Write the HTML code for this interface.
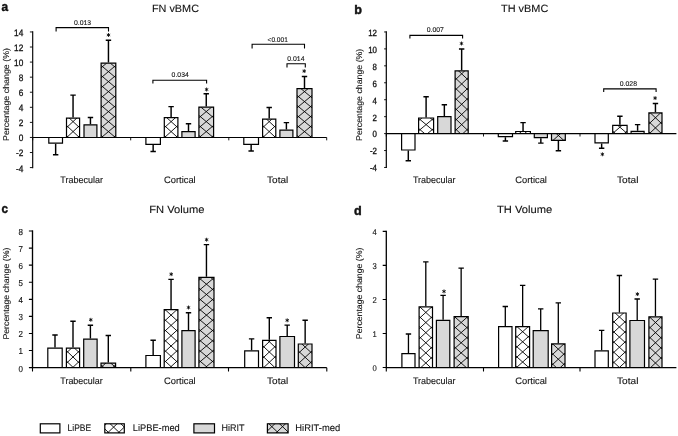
<!DOCTYPE html>
<html><head><meta charset="utf-8"><title>Figure</title>
<style>
html,body{margin:0;padding:0;background:#fff;}
body{width:678px;height:436px;overflow:hidden;font-family:"Liberation Sans",sans-serif;}
svg{display:block;will-change:transform;filter:grayscale(1);}
text{font-family:"Liberation Sans",sans-serif;fill:#111;stroke:#111;stroke-width:0.1px;text-rendering:geometricPrecision;}
</style></head><body>
<svg width="678" height="436" viewBox="0 0 678 436">
<defs><clipPath id="c1"><rect x="66.50" y="118.10" width="13.10" height="19.35"/></clipPath><clipPath id="c2"><rect x="101.10" y="63.20" width="14.70" height="74.25"/></clipPath><clipPath id="c3"><rect x="164.30" y="117.70" width="13.60" height="19.75"/></clipPath><clipPath id="c4"><rect x="198.90" y="107.20" width="14.70" height="30.25"/></clipPath><clipPath id="c5"><rect x="262.60" y="119.20" width="13.20" height="18.25"/></clipPath><clipPath id="c6"><rect x="297.00" y="88.70" width="15.00" height="48.75"/></clipPath><clipPath id="c7"><rect x="418.60" y="118.00" width="15.00" height="15.60"/></clipPath><clipPath id="c8"><rect x="455.10" y="70.90" width="13.10" height="62.70"/></clipPath><clipPath id="c9"><rect x="515.70" y="131.50" width="14.70" height="2.10"/></clipPath><clipPath id="c10"><rect x="551.50" y="133.60" width="13.80" height="6.80"/></clipPath><clipPath id="c11"><rect x="612.70" y="125.30" width="14.40" height="8.30"/></clipPath><clipPath id="c12"><rect x="648.90" y="112.90" width="13.10" height="20.70"/></clipPath><clipPath id="c13"><rect x="66.40" y="348.10" width="13.20" height="19.55"/></clipPath><clipPath id="c14"><rect x="101.00" y="363.10" width="14.60" height="4.55"/></clipPath><clipPath id="c15"><rect x="164.20" y="309.70" width="13.70" height="57.95"/></clipPath><clipPath id="c16"><rect x="198.90" y="277.30" width="15.10" height="90.35"/></clipPath><clipPath id="c17"><rect x="262.60" y="340.30" width="13.40" height="27.35"/></clipPath><clipPath id="c18"><rect x="298.30" y="344.00" width="13.70" height="23.65"/></clipPath><clipPath id="c19"><rect x="419.10" y="306.90" width="13.40" height="60.65"/></clipPath><clipPath id="c20"><rect x="454.10" y="316.70" width="14.10" height="50.85"/></clipPath><clipPath id="c21"><rect x="515.70" y="326.70" width="13.90" height="40.85"/></clipPath><clipPath id="c22"><rect x="551.60" y="343.90" width="13.40" height="23.65"/></clipPath><clipPath id="c23"><rect x="612.70" y="313.00" width="13.40" height="54.55"/></clipPath><clipPath id="c24"><rect x="648.90" y="316.80" width="13.10" height="50.75"/></clipPath><clipPath id="c25"><rect x="104.80" y="423.80" width="19.50" height="9.10"/></clipPath><clipPath id="c26"><rect x="267.40" y="423.80" width="20.70" height="9.10"/></clipPath></defs>
<rect width="678" height="436" fill="#fff"/>
<path d="M55.65 143.80L55.65 154.70M52.95 154.70L58.35 154.70" stroke="#000" stroke-width="1.45" fill="none"/><rect x="48.80" y="137.45" width="13.70" height="5.75" fill="#fff" stroke="none"/><path d="M48.80 137.45L48.80 143.20L62.50 143.20L62.50 137.45" fill="none" stroke="#000" stroke-width="1.2" stroke-linejoin="miter"/><path d="M73.05 117.50L73.05 95.10M70.35 95.10L75.75 95.10" stroke="#000" stroke-width="1.45" fill="none"/><rect x="66.50" y="118.10" width="13.10" height="19.35" fill="#fff" stroke="none"/><path d="M65.50 104.56L80.60 118.64M65.50 118.64L80.60 104.56M65.50 114.56L80.60 128.64M65.50 128.64L80.60 114.56M65.50 124.56L80.60 138.64M65.50 138.64L80.60 124.56M65.50 134.56L80.60 148.64M65.50 148.64L80.60 134.56" clip-path="url(#c1)" stroke="#000" stroke-width="0.9" fill="none"/><path d="M66.50 137.45L66.50 118.10L79.60 118.10L79.60 137.45" fill="none" stroke="#000" stroke-width="1.2" stroke-linejoin="miter"/><path d="M90.45 124.20L90.45 117.40M87.75 117.40L93.15 117.40" stroke="#000" stroke-width="1.45" fill="none"/><rect x="84.00" y="124.80" width="12.90" height="12.65" fill="#d8d8d8" stroke="none"/><path d="M84.00 137.45L84.00 124.80L96.90 124.80L96.90 137.45" fill="none" stroke="#000" stroke-width="1.2" stroke-linejoin="miter"/><path d="M108.45 62.60L108.45 40.30M105.75 40.30L111.15 40.30" stroke="#000" stroke-width="1.45" fill="none"/><rect x="101.10" y="63.20" width="14.70" height="74.25" fill="#d8d8d8" stroke="none"/><path d="M100.10 54.60L116.80 68.60M100.10 68.60L116.80 54.60M100.10 64.60L116.80 78.60M100.10 78.60L116.80 64.60M100.10 74.60L116.80 88.60M100.10 88.60L116.80 74.60M100.10 84.60L116.80 98.60M100.10 98.60L116.80 84.60M100.10 94.60L116.80 108.60M100.10 108.60L116.80 94.60M100.10 104.60L116.80 118.60M100.10 118.60L116.80 104.60M100.10 114.60L116.80 128.60M100.10 128.60L116.80 114.60M100.10 124.60L116.80 138.60M100.10 138.60L116.80 124.60M100.10 134.60L116.80 148.60M100.10 148.60L116.80 134.60" clip-path="url(#c2)" stroke="#000" stroke-width="0.9" fill="none"/><path d="M101.10 137.45L101.10 63.20L115.80 63.20L115.80 137.45" fill="none" stroke="#000" stroke-width="1.2" stroke-linejoin="miter"/><path d="M153.15 144.90L153.15 151.40M150.45 151.40L155.85 151.40" stroke="#000" stroke-width="1.45" fill="none"/><rect x="145.90" y="137.45" width="14.50" height="6.85" fill="#fff" stroke="none"/><path d="M145.90 137.45L145.90 144.30L160.40 144.30L160.40 137.45" fill="none" stroke="#000" stroke-width="1.2" stroke-linejoin="miter"/><path d="M171.10 117.10L171.10 106.60M168.40 106.60L173.80 106.60" stroke="#000" stroke-width="1.45" fill="none"/><rect x="164.30" y="117.70" width="13.60" height="19.75" fill="#fff" stroke="none"/><path d="M163.30 104.57L178.90 118.63M163.30 118.63L178.90 104.57M163.30 114.57L178.90 128.63M163.30 128.63L178.90 114.57M163.30 124.57L178.90 138.63M163.30 138.63L178.90 124.57M163.30 134.57L178.90 148.63M163.30 148.63L178.90 134.57" clip-path="url(#c3)" stroke="#000" stroke-width="0.9" fill="none"/><path d="M164.30 137.45L164.30 117.70L177.90 117.70L177.90 137.45" fill="none" stroke="#000" stroke-width="1.2" stroke-linejoin="miter"/><path d="M188.50 131.10L188.50 123.80M185.80 123.80L191.20 123.80" stroke="#000" stroke-width="1.45" fill="none"/><rect x="181.90" y="131.70" width="13.20" height="5.75" fill="#d8d8d8" stroke="none"/><path d="M181.90 137.45L181.90 131.70L195.10 131.70L195.10 137.45" fill="none" stroke="#000" stroke-width="1.2" stroke-linejoin="miter"/><path d="M206.25 106.60L206.25 93.70M203.55 93.70L208.95 93.70" stroke="#000" stroke-width="1.45" fill="none"/><rect x="198.90" y="107.20" width="14.70" height="30.25" fill="#d8d8d8" stroke="none"/><path d="M197.90 94.60L214.60 108.60M197.90 108.60L214.60 94.60M197.90 104.60L214.60 118.60M197.90 118.60L214.60 104.60M197.90 114.60L214.60 128.60M197.90 128.60L214.60 114.60M197.90 124.60L214.60 138.60M197.90 138.60L214.60 124.60M197.90 134.60L214.60 148.60M197.90 148.60L214.60 134.60" clip-path="url(#c4)" stroke="#000" stroke-width="0.9" fill="none"/><path d="M198.90 137.45L198.90 107.20L213.60 107.20L213.60 137.45" fill="none" stroke="#000" stroke-width="1.2" stroke-linejoin="miter"/><path d="M251.15 145.00L251.15 151.00M248.45 151.00L253.85 151.00" stroke="#000" stroke-width="1.45" fill="none"/><rect x="243.80" y="137.45" width="14.70" height="6.95" fill="#fff" stroke="none"/><path d="M243.80 137.45L243.80 144.40L258.50 144.40L258.50 137.45" fill="none" stroke="#000" stroke-width="1.2" stroke-linejoin="miter"/><path d="M269.20 118.60L269.20 107.40M266.50 107.40L271.90 107.40" stroke="#000" stroke-width="1.45" fill="none"/><rect x="262.60" y="119.20" width="13.20" height="18.25" fill="#fff" stroke="none"/><path d="M261.60 104.56L276.80 118.64M261.60 118.64L276.80 104.56M261.60 114.56L276.80 128.64M261.60 128.64L276.80 114.56M261.60 124.56L276.80 138.64M261.60 138.64L276.80 124.56M261.60 134.56L276.80 148.64M261.60 148.64L276.80 134.56" clip-path="url(#c5)" stroke="#000" stroke-width="0.9" fill="none"/><path d="M262.60 137.45L262.60 119.20L275.80 119.20L275.80 137.45" fill="none" stroke="#000" stroke-width="1.2" stroke-linejoin="miter"/><path d="M286.40 129.60L286.40 122.60M283.70 122.60L289.10 122.60" stroke="#000" stroke-width="1.45" fill="none"/><rect x="279.90" y="130.20" width="13.00" height="7.25" fill="#d8d8d8" stroke="none"/><path d="M279.90 137.45L279.90 130.20L292.90 130.20L292.90 137.45" fill="none" stroke="#000" stroke-width="1.2" stroke-linejoin="miter"/><path d="M304.50 88.10L304.50 76.50M301.80 76.50L307.20 76.50" stroke="#000" stroke-width="1.45" fill="none"/><rect x="297.00" y="88.70" width="15.00" height="48.75" fill="#d8d8d8" stroke="none"/><path d="M296.00 74.60L313.00 88.60M296.00 88.60L313.00 74.60M296.00 84.60L313.00 98.60M296.00 98.60L313.00 84.60M296.00 94.60L313.00 108.60M296.00 108.60L313.00 94.60M296.00 104.60L313.00 118.60M296.00 118.60L313.00 104.60M296.00 114.60L313.00 128.60M296.00 128.60L313.00 114.60M296.00 124.60L313.00 138.60M296.00 138.60L313.00 124.60M296.00 134.60L313.00 148.60M296.00 148.60L313.00 134.60" clip-path="url(#c6)" stroke="#000" stroke-width="0.9" fill="none"/><path d="M297.00 137.45L297.00 88.70L312.00 88.70L312.00 137.45" fill="none" stroke="#000" stroke-width="1.2" stroke-linejoin="miter"/><path d="M32.70 31.37L32.70 168.17" stroke="#000" stroke-width="1.15" fill="none"/><path d="M32.70 137.45L326.70 137.45" stroke="#000" stroke-width="1.15" fill="none"/><path d="M29.90 167.59L32.70 167.59M29.90 152.52L32.70 152.52M29.90 137.45L32.70 137.45M29.90 122.38L32.70 122.38M29.90 107.31L32.70 107.31M29.90 92.23L32.70 92.23M29.90 77.16L32.70 77.16M29.90 62.09L32.70 62.09M29.90 47.02L32.70 47.02M29.90 31.95L32.70 31.95M32.70 137.45L32.70 140.35M130.70 137.45L130.70 140.35M228.80 137.45L228.80 140.35M326.70 137.45L326.70 140.35" stroke="#000" stroke-width="0.9" fill="none"/><text x="23.30" y="171.54" font-size="9.4" text-anchor="end" textLength="7.35" lengthAdjust="spacingAndGlyphs" style="stroke-width:0.3px">-4</text><text x="23.30" y="156.47" font-size="9.4" text-anchor="end" textLength="7.35" lengthAdjust="spacingAndGlyphs" style="stroke-width:0.3px">-2</text><text x="23.30" y="141.40" font-size="9.4" text-anchor="end" textLength="4.60" lengthAdjust="spacingAndGlyphs" style="stroke-width:0.3px">0</text><text x="23.30" y="126.33" font-size="9.4" text-anchor="end" textLength="4.60" lengthAdjust="spacingAndGlyphs" style="stroke-width:0.3px">2</text><text x="23.30" y="111.26" font-size="9.4" text-anchor="end" textLength="4.60" lengthAdjust="spacingAndGlyphs" style="stroke-width:0.3px">4</text><text x="23.30" y="96.18" font-size="9.4" text-anchor="end" textLength="4.60" lengthAdjust="spacingAndGlyphs" style="stroke-width:0.3px">6</text><text x="23.30" y="81.11" font-size="9.4" text-anchor="end" textLength="4.60" lengthAdjust="spacingAndGlyphs" style="stroke-width:0.3px">8</text><text x="23.30" y="66.04" font-size="9.4" text-anchor="end" textLength="9.20" lengthAdjust="spacingAndGlyphs" style="stroke-width:0.3px">10</text><text x="23.30" y="50.97" font-size="9.4" text-anchor="end" textLength="9.20" lengthAdjust="spacingAndGlyphs" style="stroke-width:0.3px">12</text><text x="23.30" y="35.90" font-size="9.4" text-anchor="end" textLength="9.20" lengthAdjust="spacingAndGlyphs" style="stroke-width:0.3px">14</text><text transform="translate(8.70 94.50) rotate(-90)" font-size="8.4" text-anchor="middle" textLength="93.00" lengthAdjust="spacingAndGlyphs">Percentage change (%)</text><path d="M108.50 33.05L108.50 36.95M106.81 34.02L110.19 35.98M110.19 34.02L106.81 35.98" stroke="#000" stroke-width="0.85" fill="none"/><path d="M206.60 87.55L206.60 91.45M204.91 88.53L208.29 90.47M208.29 88.53L204.91 90.47" stroke="#000" stroke-width="0.85" fill="none"/><path d="M304.20 69.15L304.20 73.05M302.51 70.12L305.89 72.07M305.89 70.12L302.51 72.07" stroke="#000" stroke-width="0.85" fill="none"/><path d="M56.10 31.40L56.10 27.60L108.50 27.60L108.50 31.40" stroke="#000" stroke-width="1.1" fill="none"/><text x="82.60" y="24.85" font-size="6.8" text-anchor="middle" textLength="17.20" lengthAdjust="spacingAndGlyphs">0.013</text><path d="M152.90 83.50L152.90 80.30L206.60 80.30L206.60 83.50" stroke="#000" stroke-width="1.1" fill="none"/><text x="180.20" y="76.75" font-size="6.8" text-anchor="middle" textLength="17.20" lengthAdjust="spacingAndGlyphs">0.034</text><path d="M252.10 48.40L252.10 44.30L304.50 44.30L304.50 48.40" stroke="#000" stroke-width="1.1" fill="none"/><text x="277.70" y="41.55" font-size="6.8" text-anchor="middle" textLength="20.30" lengthAdjust="spacingAndGlyphs">&lt;0.001</text><path d="M287.00 67.40L287.00 63.80L305.30 63.80L305.30 67.40" stroke="#000" stroke-width="1.1" fill="none"/><text x="295.90" y="60.75" font-size="6.8" text-anchor="middle" textLength="17.20" lengthAdjust="spacingAndGlyphs">0.014</text><text x="175.45" y="11.60" font-size="10.5" text-anchor="middle" textLength="47.10" lengthAdjust="spacingAndGlyphs">FN vBMC</text><text x="1.60" y="10.70" font-size="13.2" text-anchor="start" font-weight="bold" textLength="6.60" lengthAdjust="spacingAndGlyphs" style="stroke-width:0.45px;text-rendering:auto">a</text><text x="81.60" y="183.20" font-size="9.4" text-anchor="middle" textLength="42.60" lengthAdjust="spacingAndGlyphs">Trabecular</text><text x="179.90" y="183.20" font-size="9.4" text-anchor="middle" textLength="31.60" lengthAdjust="spacingAndGlyphs">Cortical</text><text x="277.70" y="183.20" font-size="9.4" text-anchor="middle" textLength="21.20" lengthAdjust="spacingAndGlyphs">Total</text>
<path d="M408.30 150.60L408.30 160.70M405.60 160.70L411.00 160.70" stroke="#000" stroke-width="1.45" fill="none"/><rect x="401.60" y="133.60" width="13.40" height="16.40" fill="#fff" stroke="none"/><path d="M401.60 133.60L401.60 150.00L415.00 150.00L415.00 133.60" fill="none" stroke="#000" stroke-width="1.2" stroke-linejoin="miter"/><path d="M426.10 117.40L426.10 96.80M423.40 96.80L428.80 96.80" stroke="#000" stroke-width="1.45" fill="none"/><rect x="418.60" y="118.00" width="15.00" height="15.60" fill="#fff" stroke="none"/><path d="M417.60 107.33L434.60 121.55M417.60 121.55L434.60 107.33M417.60 117.49L434.60 131.71M417.60 131.71L434.60 117.49M417.60 127.65L434.60 141.87M417.60 141.87L434.60 127.65" clip-path="url(#c7)" stroke="#000" stroke-width="0.9" fill="none"/><path d="M418.60 133.60L418.60 118.00L433.60 118.00L433.60 133.60" fill="none" stroke="#000" stroke-width="1.2" stroke-linejoin="miter"/><path d="M444.35 116.10L444.35 104.80M441.65 104.80L447.05 104.80" stroke="#000" stroke-width="1.45" fill="none"/><rect x="437.70" y="116.70" width="13.30" height="16.90" fill="#d8d8d8" stroke="none"/><path d="M437.70 133.60L437.70 116.70L451.00 116.70L451.00 133.60" fill="none" stroke="#000" stroke-width="1.2" stroke-linejoin="miter"/><path d="M461.65 70.30L461.65 48.90M458.95 48.90L464.35 48.90" stroke="#000" stroke-width="1.45" fill="none"/><rect x="455.10" y="70.90" width="13.10" height="62.70" fill="#d8d8d8" stroke="none"/><path d="M454.10 56.49L469.20 70.79M454.10 70.79L469.20 56.49M454.10 66.65L469.20 80.95M454.10 80.95L469.20 66.65M454.10 76.81L469.20 91.11M454.10 91.11L469.20 76.81M454.10 86.97L469.20 101.27M454.10 101.27L469.20 86.97M454.10 97.13L469.20 111.43M454.10 111.43L469.20 97.13M454.10 107.29L469.20 121.59M454.10 121.59L469.20 107.29M454.10 117.45L469.20 131.75M454.10 131.75L469.20 117.45M454.10 127.61L469.20 141.91M454.10 141.91L469.20 127.61" clip-path="url(#c8)" stroke="#000" stroke-width="0.9" fill="none"/><path d="M455.10 133.60L455.10 70.90L468.20 70.90L468.20 133.60" fill="none" stroke="#000" stroke-width="1.2" stroke-linejoin="miter"/><path d="M505.40 137.20L505.40 141.00M502.70 141.00L508.10 141.00" stroke="#000" stroke-width="1.45" fill="none"/><rect x="498.30" y="133.60" width="14.20" height="3.00" fill="#fff" stroke="none"/><path d="M498.30 133.60L498.30 136.60L512.50 136.60L512.50 133.60" fill="none" stroke="#000" stroke-width="1.2" stroke-linejoin="miter"/><path d="M523.05 130.90L523.05 122.60M520.35 122.60L525.75 122.60" stroke="#000" stroke-width="1.45" fill="none"/><rect x="515.70" y="131.50" width="14.70" height="2.10" fill="#fff" stroke="none"/><path d="M514.70 117.49L531.40 131.71M514.70 131.71L531.40 117.49M514.70 127.65L531.40 141.87M514.70 141.87L531.40 127.65" clip-path="url(#c9)" stroke="#000" stroke-width="0.9" fill="none"/><path d="M515.70 133.60L515.70 131.50L530.40 131.50L530.40 133.60" fill="none" stroke="#000" stroke-width="1.2" stroke-linejoin="miter"/><path d="M540.85 138.20L540.85 143.10M538.15 143.10L543.55 143.10" stroke="#000" stroke-width="1.45" fill="none"/><rect x="534.30" y="133.60" width="13.10" height="4.00" fill="#d8d8d8" stroke="none"/><path d="M534.30 133.60L534.30 137.60L547.40 137.60L547.40 133.60" fill="none" stroke="#000" stroke-width="1.2" stroke-linejoin="miter"/><path d="M558.40 141.00L558.40 150.70M555.70 150.70L561.10 150.70" stroke="#000" stroke-width="1.45" fill="none"/><rect x="551.50" y="133.60" width="13.80" height="6.80" fill="#d8d8d8" stroke="none"/><path d="M550.50 128.37L566.30 142.63M550.50 142.63L566.30 128.37M550.50 138.53L566.30 152.79M550.50 152.79L566.30 138.53" clip-path="url(#c10)" stroke="#000" stroke-width="0.9" fill="none"/><path d="M551.50 133.60L551.50 140.40L565.30 140.40L565.30 133.60" fill="none" stroke="#000" stroke-width="1.2" stroke-linejoin="miter"/><path d="M601.65 143.50L601.65 148.30M598.95 148.30L604.35 148.30" stroke="#000" stroke-width="1.45" fill="none"/><rect x="595.00" y="133.60" width="13.30" height="9.30" fill="#fff" stroke="none"/><path d="M595.00 133.60L595.00 142.90L608.30 142.90L608.30 133.60" fill="none" stroke="#000" stroke-width="1.2" stroke-linejoin="miter"/><path d="M619.90 124.70L619.90 116.30M617.20 116.30L622.60 116.30" stroke="#000" stroke-width="1.45" fill="none"/><rect x="612.70" y="125.30" width="14.40" height="8.30" fill="#fff" stroke="none"/><path d="M611.70 120.08L628.10 134.32M611.70 134.32L628.10 120.08M611.70 130.24L628.10 144.48M611.70 144.48L628.10 130.24" clip-path="url(#c11)" stroke="#000" stroke-width="0.9" fill="none"/><path d="M612.70 133.60L612.70 125.30L627.10 125.30L627.10 133.60" fill="none" stroke="#000" stroke-width="1.2" stroke-linejoin="miter"/><path d="M637.60 130.70L637.60 124.60M634.90 124.60L640.30 124.60" stroke="#000" stroke-width="1.45" fill="none"/><rect x="631.10" y="131.30" width="13.00" height="2.30" fill="#d8d8d8" stroke="none"/><path d="M631.10 133.60L631.10 131.30L644.10 131.30L644.10 133.60" fill="none" stroke="#000" stroke-width="1.2" stroke-linejoin="miter"/><path d="M655.45 112.30L655.45 103.50M652.75 103.50L658.15 103.50" stroke="#000" stroke-width="1.45" fill="none"/><rect x="648.90" y="112.90" width="13.10" height="20.70" fill="#d8d8d8" stroke="none"/><path d="M647.90 100.43L663.00 114.73M647.90 114.73L663.00 100.43M647.90 110.59L663.00 124.89M647.90 124.89L663.00 110.59M647.90 120.75L663.00 135.05M647.90 135.05L663.00 120.75M647.90 130.91L663.00 145.21M647.90 145.21L663.00 130.91" clip-path="url(#c12)" stroke="#000" stroke-width="0.9" fill="none"/><path d="M648.90 133.60L648.90 112.90L662.00 112.90L662.00 133.60" fill="none" stroke="#000" stroke-width="1.2" stroke-linejoin="miter"/><path d="M386.30 31.36L386.30 168.08" stroke="#000" stroke-width="1.2" fill="none"/><path d="M386.30 133.60L676.40 133.60" stroke="#000" stroke-width="1.2" fill="none"/><path d="M384.10 167.48L386.30 167.48M384.10 150.54L386.30 150.54M384.10 133.60L386.30 133.60M384.10 116.66L386.30 116.66M384.10 99.72L386.30 99.72M384.10 82.78L386.30 82.78M384.10 65.84L386.30 65.84M384.10 48.90L386.30 48.90M384.10 31.96L386.30 31.96M386.30 133.60L386.30 136.50M483.50 133.60L483.50 136.50M580.00 133.60L580.00 136.50" stroke="#000" stroke-width="0.9" fill="none"/><text x="377.00" y="171.36" font-size="9.0" text-anchor="end" textLength="7.04" lengthAdjust="spacingAndGlyphs" style="stroke-width:0.3px">-4</text><text x="377.00" y="154.42" font-size="9.0" text-anchor="end" textLength="7.04" lengthAdjust="spacingAndGlyphs" style="stroke-width:0.3px">-2</text><text x="377.00" y="137.48" font-size="9.0" text-anchor="end" textLength="4.40" lengthAdjust="spacingAndGlyphs" style="stroke-width:0.3px">0</text><text x="377.00" y="120.54" font-size="9.0" text-anchor="end" textLength="4.40" lengthAdjust="spacingAndGlyphs" style="stroke-width:0.3px">2</text><text x="377.00" y="103.60" font-size="9.0" text-anchor="end" textLength="4.40" lengthAdjust="spacingAndGlyphs" style="stroke-width:0.3px">4</text><text x="377.00" y="86.66" font-size="9.0" text-anchor="end" textLength="4.40" lengthAdjust="spacingAndGlyphs" style="stroke-width:0.3px">6</text><text x="377.00" y="69.72" font-size="9.0" text-anchor="end" textLength="4.40" lengthAdjust="spacingAndGlyphs" style="stroke-width:0.3px">8</text><text x="377.00" y="52.78" font-size="9.0" text-anchor="end" textLength="8.81" lengthAdjust="spacingAndGlyphs" style="stroke-width:0.3px">10</text><text x="377.00" y="35.84" font-size="9.0" text-anchor="end" textLength="8.81" lengthAdjust="spacingAndGlyphs" style="stroke-width:0.3px">12</text><text transform="translate(361.90 94.80) rotate(-90)" font-size="8.4" text-anchor="middle" textLength="92.20" lengthAdjust="spacingAndGlyphs">Percentage change (%)</text><path d="M461.50 41.55L461.50 45.45M459.81 42.52L463.19 44.48M463.19 42.52L459.81 44.48" stroke="#000" stroke-width="0.85" fill="none"/><path d="M602.40 152.35L602.40 156.25M600.71 153.33L604.09 155.28M604.09 153.33L600.71 155.28" stroke="#000" stroke-width="0.85" fill="none"/><path d="M655.10 96.15L655.10 100.05M653.41 97.12L656.79 99.07M656.79 97.12L653.41 99.07" stroke="#000" stroke-width="0.85" fill="none"/><path d="M409.90 38.50L409.90 35.40L462.60 35.40L462.60 38.50" stroke="#000" stroke-width="1.1" fill="none"/><text x="435.30" y="31.75" font-size="6.8" text-anchor="middle" textLength="17.20" lengthAdjust="spacingAndGlyphs">0.007</text><path d="M603.70 92.10L603.70 88.90L656.10 88.90L656.10 92.10" stroke="#000" stroke-width="1.1" fill="none"/><text x="628.40" y="85.65" font-size="6.8" text-anchor="middle" textLength="17.20" lengthAdjust="spacingAndGlyphs">0.028</text><text x="524.65" y="11.60" font-size="10.5" text-anchor="middle" textLength="47.30" lengthAdjust="spacingAndGlyphs">TH vBMC</text><text x="354.20" y="13.80" font-size="13.2" text-anchor="start" font-weight="bold" textLength="7.70" lengthAdjust="spacingAndGlyphs" style="stroke-width:0.45px;text-rendering:auto">b</text><text x="434.20" y="182.90" font-size="9.4" text-anchor="middle" textLength="42.60" lengthAdjust="spacingAndGlyphs">Trabecular</text><text x="531.10" y="182.90" font-size="9.4" text-anchor="middle" textLength="31.60" lengthAdjust="spacingAndGlyphs">Cortical</text><text x="627.70" y="182.90" font-size="9.4" text-anchor="middle" textLength="21.40" lengthAdjust="spacingAndGlyphs">Total</text>
<path d="M55.00 347.50L55.00 335.00M52.30 335.00L57.70 335.00" stroke="#000" stroke-width="1.4" fill="none"/><rect x="47.80" y="348.10" width="14.40" height="19.55" fill="#fff" stroke="none"/><path d="M47.80 367.65L47.80 348.10L62.20 348.10L62.20 367.65" fill="none" stroke="#000" stroke-width="1.2" stroke-linejoin="miter"/><path d="M73.00 347.50L73.00 321.20M70.30 321.20L75.70 321.20" stroke="#000" stroke-width="1.4" fill="none"/><rect x="66.40" y="348.10" width="13.20" height="19.55" fill="#fff" stroke="none"/><path d="M65.40 339.45L80.60 353.95M65.40 353.95L80.60 339.45M65.40 349.75L80.60 364.25M65.40 364.25L80.60 349.75M65.40 360.05L80.60 374.55M65.40 374.55L80.60 360.05" clip-path="url(#c13)" stroke="#000" stroke-width="0.9" fill="none"/><path d="M66.40 367.65L66.40 348.10L79.60 348.10L79.60 367.65" fill="none" stroke="#000" stroke-width="1.2" stroke-linejoin="miter"/><path d="M90.40 338.60L90.40 325.30M87.70 325.30L93.10 325.30" stroke="#000" stroke-width="1.4" fill="none"/><rect x="83.70" y="339.20" width="13.40" height="28.45" fill="#d8d8d8" stroke="none"/><path d="M83.70 367.65L83.70 339.20L97.10 339.20L97.10 367.65" fill="none" stroke="#000" stroke-width="1.2" stroke-linejoin="miter"/><path d="M108.30 362.50L108.30 335.50M105.60 335.50L111.00 335.50" stroke="#000" stroke-width="1.4" fill="none"/><rect x="101.00" y="363.10" width="14.60" height="4.55" fill="#d8d8d8" stroke="none"/><path d="M100.00 353.79L116.60 368.21M100.00 368.21L116.60 353.79M100.00 364.09L116.60 378.51M100.00 378.51L116.60 364.09" clip-path="url(#c14)" stroke="#000" stroke-width="0.9" fill="none"/><path d="M101.00 367.65L101.00 363.10L115.60 363.10L115.60 367.65" fill="none" stroke="#000" stroke-width="1.2" stroke-linejoin="miter"/><path d="M153.15 354.90L153.15 340.30M150.45 340.30L155.85 340.30" stroke="#000" stroke-width="1.4" fill="none"/><rect x="145.90" y="355.50" width="14.50" height="12.15" fill="#fff" stroke="none"/><path d="M145.90 367.65L145.90 355.50L160.40 355.50L160.40 367.65" fill="none" stroke="#000" stroke-width="1.2" stroke-linejoin="miter"/><path d="M171.05 309.10L171.05 279.40M168.35 279.40L173.75 279.40" stroke="#000" stroke-width="1.4" fill="none"/><rect x="164.20" y="309.70" width="13.70" height="57.95" fill="#fff" stroke="none"/><path d="M163.20 297.56L178.90 312.04M163.20 312.04L178.90 297.56M163.20 307.86L178.90 322.34M163.20 322.34L178.90 307.86M163.20 318.16L178.90 332.64M163.20 332.64L178.90 318.16M163.20 328.46L178.90 342.94M163.20 342.94L178.90 328.46M163.20 338.76L178.90 353.24M163.20 353.24L178.90 338.76M163.20 349.06L178.90 363.54M163.20 363.54L178.90 349.06M163.20 359.36L178.90 373.84M163.20 373.84L178.90 359.36" clip-path="url(#c15)" stroke="#000" stroke-width="0.9" fill="none"/><path d="M164.20 367.65L164.20 309.70L177.90 309.70L177.90 367.65" fill="none" stroke="#000" stroke-width="1.2" stroke-linejoin="miter"/><path d="M188.50 330.10L188.50 312.70M185.80 312.70L191.20 312.70" stroke="#000" stroke-width="1.4" fill="none"/><rect x="181.90" y="330.70" width="13.20" height="36.95" fill="#d8d8d8" stroke="none"/><path d="M181.90 367.65L181.90 330.70L195.10 330.70L195.10 367.65" fill="none" stroke="#000" stroke-width="1.2" stroke-linejoin="miter"/><path d="M206.45 276.70L206.45 244.60M203.75 244.60L209.15 244.60" stroke="#000" stroke-width="1.4" fill="none"/><rect x="198.90" y="277.30" width="15.10" height="90.35" fill="#d8d8d8" stroke="none"/><path d="M197.90 266.70L215.00 281.10M197.90 281.10L215.00 266.70M197.90 277.00L215.00 291.40M197.90 291.40L215.00 277.00M197.90 287.30L215.00 301.70M197.90 301.70L215.00 287.30M197.90 297.60L215.00 312.00M197.90 312.00L215.00 297.60M197.90 307.90L215.00 322.30M197.90 322.30L215.00 307.90M197.90 318.20L215.00 332.60M197.90 332.60L215.00 318.20M197.90 328.50L215.00 342.90M197.90 342.90L215.00 328.50M197.90 338.80L215.00 353.20M197.90 353.20L215.00 338.80M197.90 349.10L215.00 363.50M197.90 363.50L215.00 349.10M197.90 359.40L215.00 373.80M197.90 373.80L215.00 359.40" clip-path="url(#c16)" stroke="#000" stroke-width="0.9" fill="none"/><path d="M198.90 367.65L198.90 277.30L214.00 277.30L214.00 367.65" fill="none" stroke="#000" stroke-width="1.2" stroke-linejoin="miter"/><path d="M251.60 350.30L251.60 338.90M248.90 338.90L254.30 338.90" stroke="#000" stroke-width="1.4" fill="none"/><rect x="244.70" y="350.90" width="13.80" height="16.75" fill="#fff" stroke="none"/><path d="M244.70 367.65L244.70 350.90L258.50 350.90L258.50 367.65" fill="none" stroke="#000" stroke-width="1.2" stroke-linejoin="miter"/><path d="M269.30 339.70L269.30 317.80M266.60 317.80L272.00 317.80" stroke="#000" stroke-width="1.4" fill="none"/><rect x="262.60" y="340.30" width="13.40" height="27.35" fill="#fff" stroke="none"/><path d="M261.60 334.46L277.00 348.94M261.60 348.94L277.00 334.46M261.60 344.76L277.00 359.24M261.60 359.24L277.00 344.76M261.60 355.06L277.00 369.54M261.60 369.54L277.00 355.06M261.60 365.36L277.00 379.84M261.60 379.84L277.00 365.36" clip-path="url(#c17)" stroke="#000" stroke-width="0.9" fill="none"/><path d="M262.60 367.65L262.60 340.30L276.00 340.30L276.00 367.65" fill="none" stroke="#000" stroke-width="1.2" stroke-linejoin="miter"/><path d="M287.20 335.90L287.20 325.10M284.50 325.10L289.90 325.10" stroke="#000" stroke-width="1.4" fill="none"/><rect x="279.90" y="336.50" width="14.60" height="31.15" fill="#d8d8d8" stroke="none"/><path d="M279.90 367.65L279.90 336.50L294.50 336.50L294.50 367.65" fill="none" stroke="#000" stroke-width="1.2" stroke-linejoin="miter"/><path d="M305.15 343.40L305.15 320.30M302.45 320.30L307.85 320.30" stroke="#000" stroke-width="1.4" fill="none"/><rect x="298.30" y="344.00" width="13.70" height="23.65" fill="#d8d8d8" stroke="none"/><path d="M297.30 329.46L313.00 343.94M297.30 343.94L313.00 329.46M297.30 339.76L313.00 354.24M297.30 354.24L313.00 339.76M297.30 350.06L313.00 364.54M297.30 364.54L313.00 350.06M297.30 360.36L313.00 374.84M297.30 374.84L313.00 360.36" clip-path="url(#c18)" stroke="#000" stroke-width="0.9" fill="none"/><path d="M298.30 367.65L298.30 344.00L312.00 344.00L312.00 367.65" fill="none" stroke="#000" stroke-width="1.2" stroke-linejoin="miter"/><path d="M32.50 230.33L32.50 368.32" stroke="#000" stroke-width="1.35" fill="none"/><path d="M32.50 367.65L326.80 367.65" stroke="#000" stroke-width="1.35" fill="none"/><path d="M28.90 367.65L32.50 367.65M28.90 350.57L32.50 350.57M28.90 333.49L32.50 333.49M28.90 316.41L32.50 316.41M28.90 299.33L32.50 299.33M28.90 282.25L32.50 282.25M28.90 265.17L32.50 265.17M28.90 248.09L32.50 248.09M28.90 231.01L32.50 231.01M32.50 367.65L32.50 371.55M130.80 367.65L130.80 371.55M228.50 367.65L228.50 371.55M326.80 367.65L326.80 371.55" stroke="#000" stroke-width="1.1" fill="none"/><text x="23.00" y="371.51" font-size="8.7" text-anchor="end" textLength="4.45" lengthAdjust="spacingAndGlyphs" style="stroke-width:0.12px">0</text><text x="23.00" y="354.43" font-size="8.7" text-anchor="end" textLength="4.45" lengthAdjust="spacingAndGlyphs" style="stroke-width:0.12px">1</text><text x="23.00" y="337.35" font-size="8.7" text-anchor="end" textLength="4.45" lengthAdjust="spacingAndGlyphs" style="stroke-width:0.12px">2</text><text x="23.00" y="320.27" font-size="8.7" text-anchor="end" textLength="4.45" lengthAdjust="spacingAndGlyphs" style="stroke-width:0.12px">3</text><text x="23.00" y="303.19" font-size="8.7" text-anchor="end" textLength="4.45" lengthAdjust="spacingAndGlyphs" style="stroke-width:0.12px">4</text><text x="23.00" y="286.11" font-size="8.7" text-anchor="end" textLength="4.45" lengthAdjust="spacingAndGlyphs" style="stroke-width:0.12px">5</text><text x="23.00" y="269.03" font-size="8.7" text-anchor="end" textLength="4.45" lengthAdjust="spacingAndGlyphs" style="stroke-width:0.12px">6</text><text x="23.00" y="251.95" font-size="8.7" text-anchor="end" textLength="4.45" lengthAdjust="spacingAndGlyphs" style="stroke-width:0.12px">7</text><text x="23.00" y="234.87" font-size="8.7" text-anchor="end" textLength="4.45" lengthAdjust="spacingAndGlyphs" style="stroke-width:0.12px">8</text><text transform="translate(8.70 293.60) rotate(-90)" font-size="8.4" text-anchor="middle" textLength="92.00" lengthAdjust="spacingAndGlyphs">Percentage change (%)</text><path d="M90.80 317.85L90.80 321.75M89.11 318.82L92.49 320.78M92.49 318.82L89.11 320.78" stroke="#000" stroke-width="0.85" fill="none"/><path d="M171.20 272.25L171.20 276.15M169.51 273.22L172.89 275.18M172.89 273.22L169.51 275.18" stroke="#000" stroke-width="0.85" fill="none"/><path d="M188.50 305.55L188.50 309.45M186.81 306.52L190.19 308.48M190.19 306.52L186.81 308.48" stroke="#000" stroke-width="0.85" fill="none"/><path d="M206.60 237.75L206.60 241.65M204.91 238.72L208.29 240.67M208.29 238.72L204.91 240.67" stroke="#000" stroke-width="0.85" fill="none"/><path d="M287.20 318.35L287.20 322.25M285.51 319.32L288.89 321.28M288.89 319.32L285.51 321.28" stroke="#000" stroke-width="0.85" fill="none"/><text x="176.90" y="213.30" font-size="10.5" text-anchor="middle" textLength="55.20" lengthAdjust="spacingAndGlyphs">FN Volume</text><text x="1.60" y="212.70" font-size="13.2" text-anchor="start" font-weight="bold" textLength="6.50" lengthAdjust="spacingAndGlyphs" style="stroke-width:0.45px;text-rendering:auto">c</text><text x="81.50" y="384.00" font-size="9.4" text-anchor="middle" textLength="42.40" lengthAdjust="spacingAndGlyphs">Trabecular</text><text x="179.90" y="384.00" font-size="9.4" text-anchor="middle" textLength="31.60" lengthAdjust="spacingAndGlyphs">Cortical</text><text x="277.70" y="384.00" font-size="9.4" text-anchor="middle" textLength="21.20" lengthAdjust="spacingAndGlyphs">Total</text>
<path d="M408.45 353.00L408.45 334.00M405.75 334.00L411.15 334.00" stroke="#000" stroke-width="1.3" fill="none"/><rect x="401.90" y="353.60" width="13.10" height="13.95" fill="#fff" stroke="none"/><path d="M401.90 367.55L401.90 353.60L415.00 353.60L415.00 367.55" fill="none" stroke="#000" stroke-width="1.2" stroke-linejoin="miter"/><path d="M425.80 306.30L425.80 261.80M423.10 261.80L428.50 261.80" stroke="#000" stroke-width="1.3" fill="none"/><rect x="419.10" y="306.90" width="13.40" height="60.65" fill="#fff" stroke="none"/><path d="M418.10 295.16L433.50 309.40M418.10 309.40L433.50 295.16M418.10 305.28L433.50 319.52M418.10 319.52L433.50 305.28M418.10 315.40L433.50 329.64M418.10 329.64L433.50 315.40M418.10 325.52L433.50 339.76M418.10 339.76L433.50 325.52M418.10 335.64L433.50 349.88M418.10 349.88L433.50 335.64M418.10 345.76L433.50 360.00M418.10 360.00L433.50 345.76M418.10 355.88L433.50 370.12M418.10 370.12L433.50 355.88M418.10 366.00L433.50 380.24M418.10 380.24L433.50 366.00" clip-path="url(#c19)" stroke="#000" stroke-width="0.9" fill="none"/><path d="M419.10 367.55L419.10 306.90L432.50 306.90L432.50 367.55" fill="none" stroke="#000" stroke-width="1.2" stroke-linejoin="miter"/><path d="M443.10 319.80L443.10 295.40M440.40 295.40L445.80 295.40" stroke="#000" stroke-width="1.3" fill="none"/><rect x="436.40" y="320.40" width="13.40" height="47.15" fill="#d8d8d8" stroke="none"/><path d="M436.40 367.55L436.40 320.40L449.80 320.40L449.80 367.55" fill="none" stroke="#000" stroke-width="1.2" stroke-linejoin="miter"/><path d="M461.15 316.10L461.15 268.20M458.45 268.20L463.85 268.20" stroke="#000" stroke-width="1.3" fill="none"/><rect x="454.10" y="316.70" width="14.10" height="50.85" fill="#d8d8d8" stroke="none"/><path d="M453.10 305.30L469.20 319.50M453.10 319.50L469.20 305.30M453.10 315.42L469.20 329.62M453.10 329.62L469.20 315.42M453.10 325.54L469.20 339.74M453.10 339.74L469.20 325.54M453.10 335.66L469.20 349.86M453.10 349.86L469.20 335.66M453.10 345.78L469.20 359.98M453.10 359.98L469.20 345.78M453.10 355.90L469.20 370.10M453.10 370.10L469.20 355.90M453.10 366.02L469.20 380.22M453.10 380.22L469.20 366.02" clip-path="url(#c20)" stroke="#000" stroke-width="0.9" fill="none"/><path d="M454.10 367.55L454.10 316.70L468.20 316.70L468.20 367.55" fill="none" stroke="#000" stroke-width="1.2" stroke-linejoin="miter"/><path d="M505.30 326.10L505.30 306.50M502.60 306.50L508.00 306.50" stroke="#000" stroke-width="1.3" fill="none"/><rect x="498.60" y="326.70" width="13.40" height="40.85" fill="#fff" stroke="none"/><path d="M498.60 367.55L498.60 326.70L512.00 326.70L512.00 367.55" fill="none" stroke="#000" stroke-width="1.2" stroke-linejoin="miter"/><path d="M522.65 326.10L522.65 285.40M519.95 285.40L525.35 285.40" stroke="#000" stroke-width="1.3" fill="none"/><rect x="515.70" y="326.70" width="13.90" height="40.85" fill="#fff" stroke="none"/><path d="M514.70 314.46L530.60 328.66M514.70 328.66L530.60 314.46M514.70 324.58L530.60 338.78M514.70 338.78L530.60 324.58M514.70 334.70L530.60 348.90M514.70 348.90L530.60 334.70M514.70 344.82L530.60 359.02M514.70 359.02L530.60 344.82M514.70 354.94L530.60 369.14M514.70 369.14L530.60 354.94M514.70 365.06L530.60 379.26M514.70 379.26L530.60 365.06" clip-path="url(#c21)" stroke="#000" stroke-width="0.9" fill="none"/><path d="M515.70 367.55L515.70 326.70L529.60 326.70L529.60 367.55" fill="none" stroke="#000" stroke-width="1.2" stroke-linejoin="miter"/><path d="M540.70 330.00L540.70 308.90M538.00 308.90L543.40 308.90" stroke="#000" stroke-width="1.3" fill="none"/><rect x="533.20" y="330.60" width="15.00" height="36.95" fill="#d8d8d8" stroke="none"/><path d="M533.20 367.55L533.20 330.60L548.20 330.60L548.20 367.55" fill="none" stroke="#000" stroke-width="1.2" stroke-linejoin="miter"/><path d="M558.30 343.30L558.30 302.90M555.60 302.90L561.00 302.90" stroke="#000" stroke-width="1.3" fill="none"/><rect x="551.60" y="343.90" width="13.40" height="23.65" fill="#d8d8d8" stroke="none"/><path d="M550.60 331.86L566.00 346.10M550.60 346.10L566.00 331.86M550.60 341.98L566.00 356.22M550.60 356.22L566.00 341.98M550.60 352.10L566.00 366.34M550.60 366.34L566.00 352.10M550.60 362.22L566.00 376.46M550.60 376.46L566.00 362.22" clip-path="url(#c22)" stroke="#000" stroke-width="0.9" fill="none"/><path d="M551.60 367.55L551.60 343.90L565.00 343.90L565.00 367.55" fill="none" stroke="#000" stroke-width="1.2" stroke-linejoin="miter"/><path d="M601.65 350.20L601.65 330.30M598.95 330.30L604.35 330.30" stroke="#000" stroke-width="1.3" fill="none"/><rect x="595.00" y="350.80" width="13.30" height="16.75" fill="#fff" stroke="none"/><path d="M595.00 367.55L595.00 350.80L608.30 350.80L608.30 367.55" fill="none" stroke="#000" stroke-width="1.2" stroke-linejoin="miter"/><path d="M619.40 312.40L619.40 275.50M616.70 275.50L622.10 275.50" stroke="#000" stroke-width="1.3" fill="none"/><rect x="612.70" y="313.00" width="13.40" height="54.55" fill="#fff" stroke="none"/><path d="M611.70 299.64L627.10 313.88M611.70 313.88L627.10 299.64M611.70 309.76L627.10 324.00M611.70 324.00L627.10 309.76M611.70 319.88L627.10 334.12M611.70 334.12L627.10 319.88M611.70 330.00L627.10 344.24M611.70 344.24L627.10 330.00M611.70 340.12L627.10 354.36M611.70 354.36L627.10 340.12M611.70 350.24L627.10 364.48M611.70 364.48L627.10 350.24M611.70 360.36L627.10 374.60M611.70 374.60L627.10 360.36" clip-path="url(#c23)" stroke="#000" stroke-width="0.9" fill="none"/><path d="M612.70 367.55L612.70 313.00L626.10 313.00L626.10 367.55" fill="none" stroke="#000" stroke-width="1.2" stroke-linejoin="miter"/><path d="M637.20 319.90L637.20 299.00M634.50 299.00L639.90 299.00" stroke="#000" stroke-width="1.3" fill="none"/><rect x="629.90" y="320.50" width="14.60" height="47.05" fill="#d8d8d8" stroke="none"/><path d="M629.90 367.55L629.90 320.50L644.50 320.50L644.50 367.55" fill="none" stroke="#000" stroke-width="1.2" stroke-linejoin="miter"/><path d="M655.45 316.20L655.45 279.20M652.75 279.20L658.15 279.20" stroke="#000" stroke-width="1.3" fill="none"/><rect x="648.90" y="316.80" width="13.10" height="50.75" fill="#d8d8d8" stroke="none"/><path d="M647.90 305.28L663.00 319.52M647.90 319.52L663.00 305.28M647.90 315.40L663.00 329.64M647.90 329.64L663.00 315.40M647.90 325.52L663.00 339.76M647.90 339.76L663.00 325.52M647.90 335.64L663.00 349.88M647.90 349.88L663.00 335.64M647.90 345.76L663.00 360.00M647.90 360.00L663.00 345.76M647.90 355.88L663.00 370.12M647.90 370.12L663.00 355.88M647.90 366.00L663.00 380.24M647.90 380.24L663.00 366.00" clip-path="url(#c24)" stroke="#000" stroke-width="0.9" fill="none"/><path d="M648.90 367.55L648.90 316.80L662.00 316.80L662.00 367.55" fill="none" stroke="#000" stroke-width="1.2" stroke-linejoin="miter"/><path d="M386.30 230.70L386.30 368.20" stroke="#000" stroke-width="1.3" fill="none"/><path d="M386.30 367.55L676.40 367.55" stroke="#000" stroke-width="1.3" fill="none"/><path d="M382.70 367.55L386.30 367.55M382.70 333.50L386.30 333.50M382.70 299.45L386.30 299.45M382.70 265.40L386.30 265.40M382.70 231.35L386.30 231.35M386.30 367.55L386.30 371.45M483.50 367.55L483.50 371.45M580.00 367.55L580.00 371.45" stroke="#000" stroke-width="1.1" fill="none"/><text x="376.80" y="371.24" font-size="8.3" text-anchor="end" textLength="4.25" lengthAdjust="spacingAndGlyphs" style="stroke-width:0.12px">0</text><text x="376.80" y="337.19" font-size="8.3" text-anchor="end" textLength="4.25" lengthAdjust="spacingAndGlyphs" style="stroke-width:0.12px">1</text><text x="376.80" y="303.14" font-size="8.3" text-anchor="end" textLength="4.25" lengthAdjust="spacingAndGlyphs" style="stroke-width:0.12px">2</text><text x="376.80" y="269.09" font-size="8.3" text-anchor="end" textLength="4.25" lengthAdjust="spacingAndGlyphs" style="stroke-width:0.12px">3</text><text x="376.80" y="235.04" font-size="8.3" text-anchor="end" textLength="4.25" lengthAdjust="spacingAndGlyphs" style="stroke-width:0.12px">4</text><text transform="translate(361.90 293.40) rotate(-90)" font-size="8.4" text-anchor="middle" textLength="91.50" lengthAdjust="spacingAndGlyphs">Percentage change (%)</text><path d="M444.00 289.45L444.00 293.35M442.31 290.42L445.69 292.38M445.69 290.42L442.31 292.38" stroke="#000" stroke-width="0.85" fill="none"/><path d="M637.40 292.15L637.40 296.05M635.71 293.12L639.09 295.08M639.09 293.12L635.71 295.08" stroke="#000" stroke-width="0.85" fill="none"/><text x="524.60" y="213.30" font-size="10.5" text-anchor="middle" textLength="55.20" lengthAdjust="spacingAndGlyphs">TH Volume</text><text x="354.00" y="215.10" font-size="13.2" text-anchor="start" font-weight="bold" textLength="7.70" lengthAdjust="spacingAndGlyphs" style="stroke-width:0.45px;text-rendering:auto">d</text><text x="434.20" y="384.00" font-size="9.4" text-anchor="middle" textLength="42.60" lengthAdjust="spacingAndGlyphs">Trabecular</text><text x="531.10" y="384.00" font-size="9.4" text-anchor="middle" textLength="31.60" lengthAdjust="spacingAndGlyphs">Cortical</text><text x="627.70" y="384.00" font-size="9.4" text-anchor="middle" textLength="21.40" lengthAdjust="spacingAndGlyphs">Total</text>
<rect x="40.30" y="423.80" width="19.60" height="9.10" fill="#fff"/><rect x="40.30" y="423.80" width="19.60" height="9.10" fill="none" stroke="#000" stroke-width="1.2"/><text x="67.60" y="431.30" font-size="9.6" text-anchor="start" textLength="23.60" lengthAdjust="spacingAndGlyphs">LiPBE</text><rect x="104.80" y="423.80" width="19.50" height="9.10" fill="#fff"/><path d="M103.80 407.37L125.30 428.06M103.80 426.23L125.30 405.54M103.80 417.67L125.30 438.36M103.80 436.53L125.30 415.84M103.80 427.97L125.30 448.66M103.80 446.83L125.30 426.14" clip-path="url(#c25)" stroke="#000" stroke-width="0.9" fill="none"/><rect x="104.80" y="423.80" width="19.50" height="9.10" fill="none" stroke="#000" stroke-width="1.2"/><text x="132.80" y="431.30" font-size="9.6" text-anchor="start" textLength="46.90" lengthAdjust="spacingAndGlyphs">LiPBE-med</text><rect x="193.90" y="423.80" width="20.60" height="9.10" fill="#d8d8d8"/><rect x="193.90" y="423.80" width="20.60" height="9.10" fill="none" stroke="#000" stroke-width="1.2"/><text x="221.40" y="431.30" font-size="9.6" text-anchor="start" textLength="23.00" lengthAdjust="spacingAndGlyphs">HiRIT</text><rect x="267.40" y="423.80" width="20.70" height="9.10" fill="#d8d8d8"/><path d="M266.40 411.10L289.10 432.96M266.40 431.90L289.10 410.04M266.40 421.40L289.10 443.26M266.40 442.20L289.10 420.34M266.40 431.70L289.10 453.56M266.40 452.50L289.10 430.64" clip-path="url(#c26)" stroke="#000" stroke-width="0.9" fill="none"/><rect x="267.40" y="423.80" width="20.70" height="9.10" fill="none" stroke="#000" stroke-width="1.2"/><text x="295.30" y="431.30" font-size="9.6" text-anchor="start" textLength="44.90" lengthAdjust="spacingAndGlyphs">HiRIT-med</text>
</svg>
</body></html>
